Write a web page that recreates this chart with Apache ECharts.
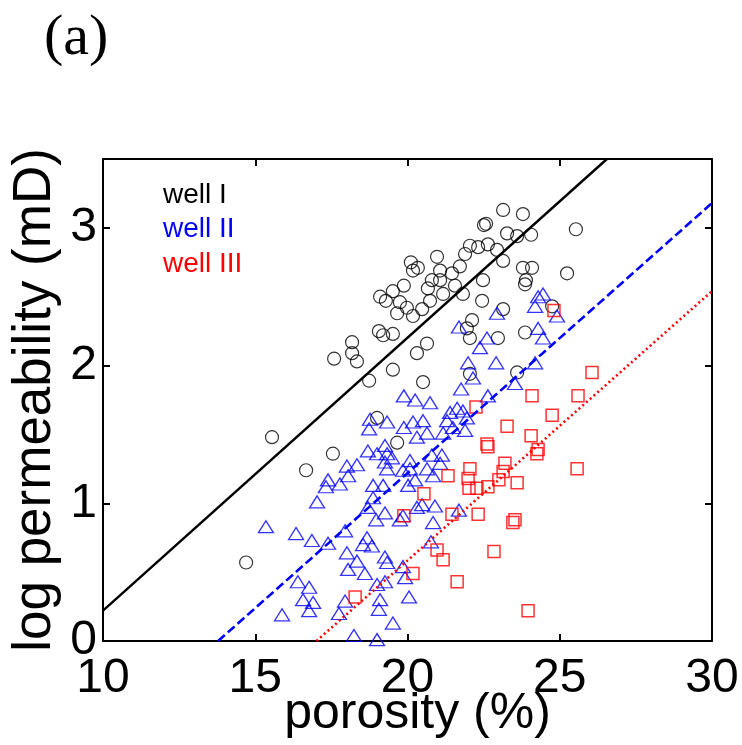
<!DOCTYPE html>
<html>
<head>
<meta charset="utf-8">
<script src="https://cdn.jsdelivr.net/npm/echarts@6/dist/echarts.min.js"></script>
<style>
html,body{margin:0;padding:0;background:#fff;}
#c{width:742px;height:745px;}
</style>
</head>
<body>
<div id="c"></div>
<script>
// ---- data (porosity %, log permeability mD) ----
var wellI = [[14.70,0.57],[15.55,1.48],[16.67,1.24],[17.55,1.36],[17.59,2.05],[18.18,2.17],[18.18,2.09],[18.34,2.03],[18.74,1.89],[19.00,1.62],[19.66,1.44],[19.06,2.25],[19.20,2.22],[19.52,2.23],[19.10,2.50],[19.29,2.47],[19.52,2.54],[19.75,2.46],[19.88,2.58],[19.98,2.42],[19.66,2.38],[20.18,2.36],[20.11,2.75],[20.18,2.69],[19.52,1.97],[20.31,2.09],[20.64,2.16],[20.34,2.71],[20.80,2.62],[21.07,2.62],[20.67,2.56],[21.17,2.52],[21.56,2.58],[20.74,2.47],[20.48,2.41],[20.97,2.79],[21.07,2.69],[21.46,2.67],[21.72,2.72],[21.89,2.81],[22.05,2.87],[22.32,2.86],[22.51,3.02],[21.82,2.52],[22.48,2.62],[22.45,2.47],[22.12,2.33],[21.95,2.27],[22.05,2.20],[23.14,3.13],[23.79,3.10],[22.58,3.03],[23.27,2.96],[23.60,2.94],[24.06,2.95],[25.53,2.99],[22.64,2.88],[22.94,2.84],[23.14,2.76],[23.79,2.71],[24.09,2.71],[25.24,2.67],[23.89,2.62],[23.86,2.59],[23.14,2.41],[24.75,2.43],[23.86,2.24],[22.97,2.20],[23.60,1.95],[20.51,1.88],[22.05,1.94]];
var wellII = [[24.45,2.52],[24.29,2.50],[24.19,2.43],[24.91,2.36],[22.94,2.38],[21.69,2.28],[22.61,2.20],[24.29,2.27],[24.45,2.20],[22.38,2.13],[21.99,2.02],[22.91,2.02],[24.19,2.02],[22.15,1.91],[23.53,1.87],[21.76,1.83],[22.64,1.78],[19.88,1.78],[20.25,1.75],[20.74,1.73],[18.77,1.61],[19.33,1.59],[18.74,1.54],[19.88,1.55],[20.18,1.59],[20.31,1.48],[21.40,1.66],[21.63,1.69],[21.82,1.67],[21.30,1.60],[21.95,1.62],[21.49,1.55],[21.89,1.53],[20.51,1.60],[20.64,1.51],[21.17,1.51],[18.70,1.38],[19.00,1.36],[19.26,1.42],[19.33,1.36],[19.49,1.33],[19.26,1.30],[19.33,1.25],[18.01,1.27],[18.34,1.28],[18.05,1.20],[17.39,1.17],[17.32,1.12],[17.78,1.14],[18.87,1.13],[19.20,1.13],[19.85,1.24],[20.08,1.25],[20.02,1.13],[20.25,1.17],[20.80,1.35],[21.13,1.35],[21.07,1.29],[20.08,1.31],[20.64,1.25],[20.84,1.20],[17.03,1.01],[18.87,1.04],[18.70,0.97],[19.26,0.93],[18.97,0.88],[19.75,0.88],[20.31,0.97],[15.35,0.83],[16.34,0.78],[16.86,0.73],[17.39,0.71],[17.95,0.80],[18.67,0.75],[18.54,0.70],[18.83,0.69],[18.01,0.64],[18.34,0.58],[18.05,0.52],[18.60,0.49],[19.26,0.61],[19.33,0.57],[19.85,0.54],[19.00,0.41],[19.26,0.43],[16.40,0.43],[16.77,0.39],[16.57,0.30],[16.90,0.28],[16.77,0.22],[15.88,0.19],[17.95,0.29],[17.75,0.20],[19.10,0.30],[19.06,0.23],[20.05,0.32],[19.52,0.13],[18.24,0.04],[19.00,0.01],[19.92,0.46],[20.48,0.99],[20.90,0.98],[21.69,0.95],[20.84,0.86],[20.77,0.72],[19.85,0.91]];
var wellIII = [[24.81,2.40],[24.09,1.78],[25.60,1.78],[26.06,1.95],[24.75,1.64],[22.25,1.70],[23.27,1.56],[24.06,1.49],[22.61,1.43],[22.64,1.41],[24.29,1.39],[24.25,1.36],[22.05,1.25],[23.20,1.29],[23.14,1.23],[23.00,1.17],[22.64,1.12],[23.60,1.15],[25.57,1.25],[21.33,1.20],[21.99,1.18],[22.02,1.11],[22.28,1.11],[20.54,1.07],[21.46,0.92],[22.32,0.92],[23.46,0.86],[23.53,0.88],[20.97,0.66],[21.17,0.59],[22.84,0.65],[20.18,0.49],[21.63,0.43],[23.96,0.22],[19.88,0.91],[18.28,0.32]];
// regression line end points
var fitI = [[10,0.22],[26.55,3.5]];
var fitII = [[13.78,0],[30,3.18]];
var fitIII = [[17.01,0],[30,2.54]];
var xTicks = [10,15,20,25,30];
var yTicks = [0,1,2,3];
var legendNames = ['well I','well II','well III'];

var FONT = 'Liberation Sans, Arial, sans-serif';
var chart = echarts.init(document.getElementById('c'), null, {renderer:'canvas'});

function axisBase(){
  return {
    axisLine:{show:true,onZero:false,lineStyle:{color:'#000',width:2}},
    axisTick:{show:true,inside:true,length:7,lineStyle:{color:'#000',width:2}},
    splitLine:{show:false}
  };
}
var xMain = Object.assign(axisBase(), {
  type:'value', position:'bottom', min:10, max:30, interval:5,
  axisLabel:{show:true,color:'#000',fontSize:48,fontFamily:FONT,margin:14,
    alignMinLabel:'center',alignMaxLabel:'center',
    formatter:function(v){return xTicks.indexOf(v)>=0?String(v):'';}},
  name:'porosity (%)', nameLocation:'middle', nameGap:48, nameMoveOverlap:false,
  nameTextStyle:{color:'#000',fontSize:50,fontFamily:FONT,padding:[0,0,0,20]}
});
var xTop = Object.assign(axisBase(), {
  type:'value', position:'top', min:10, max:30, interval:5, axisLabel:{show:false}
});
var yMain = Object.assign(axisBase(), {
  type:'value', position:'left', min:0, max:3.5, interval:1,
  axisLabel:{show:true,color:'#000',fontSize:48,fontFamily:FONT,margin:6,
    verticalAlignMinLabel:'middle',verticalAlignMaxLabel:'middle',
    formatter:function(v){return yTicks.indexOf(v)>=0?String(v):'';}},
  name:'log permeability (mD)', nameLocation:'middle', nameGap:41, nameMoveOverlap:false,
  nameTextStyle:{color:'#000',fontSize:53,fontFamily:FONT}
});
var yRight = Object.assign(axisBase(), {
  type:'value', position:'right', min:0, max:3.5, interval:1, axisLabel:{show:false}
});

var colors = ['#000000','#0000ff','#ff0000'];

chart.setOption({
  animation:false,
  backgroundColor:'#fff',
  grid:{left:103,right:30,top:159,bottom:104,containLabel:false,outerBoundsMode:'none'},
  xAxis:[xMain,xTop],
  yAxis:[yMain,yRight],
  graphic:[
    {type:'text',left:44,top:10,style:{text:'(a)',fontSize:58,fontFamily:'Liberation Serif, Times New Roman, serif',fill:'#000'}},
    {type:'text',left:163,top:181,style:{text:legendNames[0],fontSize:28,fontFamily:FONT,fill:colors[0]}},
    {type:'text',left:163,top:215,style:{text:legendNames[1],fontSize:28,fontFamily:FONT,fill:colors[1]}},
    {type:'text',left:163,top:250,style:{text:legendNames[2],fontSize:28,fontFamily:FONT,fill:colors[2]}}
  ],
  series:[
    {type:'scatter',name:legendNames[0],data:wellI,symbol:'circle',symbolSize:13,
      itemStyle:{color:'rgba(0,0,0,0)',borderColor:colors[0],borderWidth:1.2}},
    {type:'scatter',name:legendNames[1],data:wellII,symbol:'triangle',symbolSize:[15,12],
      itemStyle:{color:'rgba(0,0,0,0)',borderColor:colors[1],borderWidth:1.3}},
    {type:'scatter',name:legendNames[2],data:wellIII,symbol:'rect',symbolSize:12,
      itemStyle:{color:'rgba(0,0,0,0)',borderColor:colors[2],borderWidth:1.5}},
    {type:'line',data:fitI,symbol:'none',lineStyle:{color:colors[0],width:2.4,type:'solid'}},
    {type:'line',data:fitII,symbol:'none',lineStyle:{color:colors[1],width:2.6,type:[9,4]}},
    {type:'line',data:fitIII,symbol:'none',lineStyle:{color:colors[2],width:2.6,type:[2,3]}}
  ]
});
</script>
</body>
</html>
